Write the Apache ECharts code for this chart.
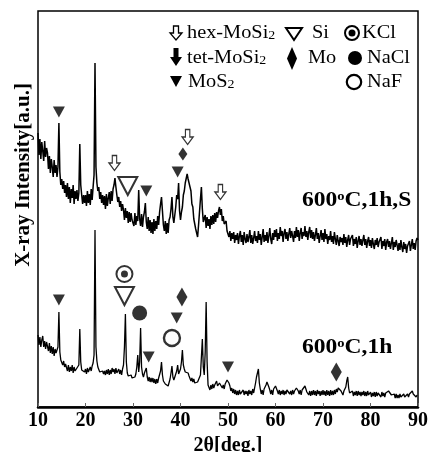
<!DOCTYPE html>
<html>
<head>
<meta charset="utf-8">
<script src="https://cdn.jsdelivr.net/npm/echarts@6/dist/echarts.min.js"></script>
<style>
html, body { margin: 0; padding: 0; background: #fff; }
#xrd { width: 434px; height: 452px; }
</style>
</head>
<body>
<div id="xrd"></div>
<script>
// both scans are sampled every 0.2 deg from 10 to 90 (2theta)
const THETA_START = 10;
const THETA_STEP = 0.2;
const xTicks = [10, 20, 30, 40, 50, 60, 70, 80, 90];

// upper trace: 600oC,1h,S (a.u.)
const scanS = [
    274, 252, 268, 248, 265, 256, 246, 266, 250, 259,
    254, 238, 251, 234, 248, 240, 230, 247, 234, 242,
    230, 240, 284, 235, 222, 228, 218, 226, 214, 222,
    210, 224, 208, 220, 204, 218, 209, 222, 203, 216,
    208, 217, 206, 214, 263, 222, 212, 203, 212, 204,
    212, 201, 216, 204, 213, 202, 218, 207, 220, 232,
    344, 240, 224, 216, 220, 208, 215, 204, 212, 202,
    211, 198, 213, 201, 209, 215, 203, 216, 206, 218,
    222, 229, 220, 212, 205, 210, 200, 206, 196, 203,
    197, 187, 199, 189, 196, 184, 195, 185, 194, 187,
    188, 181, 194, 182, 191, 186, 217, 188, 181, 193,
    180, 190, 195, 204, 185, 178, 190, 176, 187, 174,
    185, 173, 188, 176, 186, 178, 191, 182, 195, 203,
    210, 196, 182, 176, 186, 173, 184, 174, 187, 190,
    198, 210, 190, 184, 192, 200, 212, 208, 224, 196,
    187, 195, 200, 212, 216, 224, 226, 233, 228, 227,
    220, 216, 203, 200, 188, 187, 178, 177, 170, 182,
    195, 208, 220, 198, 185, 183, 192, 179, 190, 181,
    188, 178, 191, 182, 192, 183, 194, 185, 195, 189,
    196, 200, 192, 198, 186, 191, 183, 184, 186, 176,
    178, 170, 176, 166, 174, 168, 175, 164, 172, 167,
    174, 163, 171, 176, 165, 172, 162, 175, 168, 164,
    173, 165, 170, 177, 164, 172, 163, 169, 176, 166,
    171, 164, 176, 167, 173, 162, 170, 178, 165, 172,
    166, 175, 164, 171, 179, 168, 163, 174, 167, 177,
    170, 178, 166, 174, 168, 180, 171, 176, 165, 174,
    178, 168, 175, 166, 173, 179, 169, 176, 171, 165,
    176, 169, 180, 170, 177, 166, 174, 179, 168, 175,
    171, 181, 170, 176, 167, 175, 180, 169, 177, 168,
    175, 166, 172, 179, 168, 174, 164, 171, 177, 167,
    174, 165, 178, 168, 173, 163, 171, 167, 176, 165,
    171, 163, 175, 168, 162, 172, 166, 161, 170, 165,
    169, 162, 173, 164, 170, 160, 167, 172, 162, 168,
    166, 172, 161, 168, 163, 170, 159, 166, 171, 162,
    168, 161, 167, 172, 162, 168, 159, 166, 170, 161,
    167, 159, 169, 163, 158, 167, 162, 169, 160, 165,
    164, 170, 158, 166, 161, 168, 157, 165, 168, 160,
    166, 158, 164, 170, 157, 165, 160, 167, 162, 156,
    164, 157, 167, 160, 155, 165, 158, 163, 154, 161,
    160, 166, 156, 162, 168, 158, 164, 157, 166, 169,
    167
];

// lower trace: 600oC,1h (a.u.)
const scanPlain = [
    72, 62, 70, 60, 67, 71, 60, 66, 58, 65,
    63, 56, 64, 54, 61, 53, 60, 51, 58, 54,
    52, 60, 95, 55, 47, 45, 42, 46, 40, 43,
    41, 36, 42, 35, 40, 36, 42, 34, 40, 36,
    36, 39, 37, 42, 78, 45, 37, 35, 38, 35,
    38, 33, 39, 35, 34, 40, 36, 41, 44, 52,
    177, 60, 46, 40, 38, 35, 37, 34, 36, 33,
    36, 32, 37, 33, 38, 32, 37, 33, 39, 35,
    38, 33, 39, 34, 32, 38, 33, 37, 32, 38,
    42, 60, 93, 45, 34, 31, 33, 30, 32, 29,
    31, 28, 30, 33, 40, 52, 35, 45, 79, 40,
    33, 30, 34, 36, 39, 30, 26, 30, 25, 29,
    25, 29, 24, 28, 23, 28, 24, 29, 30, 36,
    45, 32, 26, 25, 23, 22, 24, 21, 22, 28,
    34, 41, 30, 27, 30, 33, 36, 42, 33, 32,
    38, 45, 57, 42, 38, 35, 37, 33, 34, 31,
    30, 26, 29, 25, 28, 24, 26, 22, 25, 23,
    25, 32, 50, 68, 40, 32, 55, 105, 45, 22,
    21, 17, 22, 18, 23, 19, 22, 24, 26, 21,
    22, 24, 26, 22, 19, 22, 18, 23, 24, 27,
    29, 24, 21, 16, 19, 14, 18, 13, 17, 12,
    16, 12, 17, 13, 15, 11, 17, 12, 16, 13,
    16, 11, 17, 13, 16, 12, 18, 14, 19, 24,
    30, 28, 38, 24, 18, 13, 17, 12, 18, 20,
    22, 25, 27, 20, 17, 13, 17, 12, 18, 19,
    21, 20, 16, 13, 17, 12, 16, 13, 17, 12,
    16, 13, 17, 18, 17, 13, 16, 12, 17, 13,
    16, 17, 19, 20, 16, 13, 17, 12, 17, 15,
    19, 21, 20, 15, 17, 12, 16, 11, 16, 12,
    17, 12, 16, 11, 17, 13, 16, 11, 16, 12,
    17, 12, 16, 11, 17, 12, 16, 11, 17, 12,
    16, 12, 17, 13, 18, 15, 19, 20, 21, 16,
    17, 12, 16, 17, 20, 26, 30, 19, 14, 16,
    12, 16, 11, 15, 12, 16, 11, 16, 12, 15,
    11, 15, 12, 16, 11, 15, 11, 16, 12, 14,
    15, 10, 14, 11, 15, 10, 15, 11, 14, 12,
    14, 10, 15, 11, 14, 10, 14, 12, 15, 16,
    17, 14, 12, 14, 10, 13, 9, 13, 9, 12,
    9, 13, 10, 12, 9, 13, 10, 12, 9, 13,
    10, 13, 14, 15, 16, 13, 12, 13, 10, 12,
    11
];

// phase markers above the peaks (2theta, height in a.u.)
const mos2X = [14.4, 32.8, 39.4, 14.4, 33.3, 39.2, 50.0];
const mos2Y = [295, 216, 235, 107, 50, 89, 40];
const hexX = [26.1, 41.5, 48.4];
const hexY = [244, 270, 215];
const siX = [28.9, 28.2];
const siY = [221, 111];
const moX = [40.5, 40.3, 72.8];
const moY = [253, 110, 35];
const kclX = [28.2];
const kclY = [133];
const naclX = [31.4];
const naclY = [94];
const nafX = [38.2];
const nafY = [69];

const SERIF = '"Liberation Serif", "Times New Roman", serif';
const INK = '#000';

const TRI_DOWN = 'path://M0,0 L12,0 L6,11 Z';
const HOLLOW_ARROW = 'path://M3,0 L7,0 L7,7 L10,7 L5,14 L0,7 L3,7 Z';

const toPoints = (ys) => ys.map((v, i) => [THETA_START + i * THETA_STEP, v]);
const pairs = (xs, ys) => xs.map((x, i) => [x, ys[i]]);

function scanSeries(ys, width) {
    return {
        type: 'line',
        data: toPoints(ys),
        showSymbol: false,
        silent: true,
        lineStyle: { color: INK, width: width },
        z: 2,
    };
}

function markSeries(xs, ys, symbol, size, itemStyle) {
    return {
        type: 'scatter',
        data: pairs(xs, ys),
        symbol: symbol,
        symbolSize: size,
        itemStyle: itemStyle,
        silent: true,
        z: 5,
    };
}

const filled = { color: INK };
const hollow = { color: '#fff', borderColor: INK, borderWidth: 1.3 };
const hollowThick = { color: '#fff', borderColor: INK, borderWidth: 2 };

// legend glyphs and texts, in pixels
function legendText(x, y, main, sub) {
    return {
        type: 'text',
        x: x,
        y: y,
        scaleX: 1.07,
        silent: true,
        style: {
            text: sub ? '{m|' + main + '}{s|' + sub + '}' : '{m|' + main + '}',
            fill: INK,
            fontFamily: SERIF,
            fontSize: 19,
            verticalAlign: 'middle',
            rich: {
                m: { fontSize: 19, fontFamily: SERIF },
                s: { fontSize: 13, fontFamily: SERIF, verticalAlign: 'bottom' },
            },
        },
    };
}

function poly(points, style) {
    return { type: 'polygon', silent: true, shape: { points: points }, style: style };
}

function ring(cx, cy, r, style) {
    return { type: 'circle', silent: true, shape: { cx: cx, cy: cy, r: r }, style: style };
}

function runLabel(x, y, rest) {
    return {
        type: 'text',
        x: x,
        y: y,
        scaleX: 1.12,
        silent: true,
        style: {
            text: '{n|600}{o|o}{n|' + rest + '}',
            fill: INK,
            fontFamily: SERIF,
            fontWeight: 'bold',
            fontSize: 21,
            verticalAlign: 'middle',
            rich: {
                n: { fontSize: 21, fontFamily: SERIF, fontWeight: 'bold' },
                o: { fontSize: 13, fontFamily: SERIF, fontWeight: 'bold', verticalAlign: 'top' },
            },
        },
    };
}

const legendGraphics = [
    poly([[173.5, 26], [178.5, 26], [178.5, 33], [182, 33], [176, 40], [170, 33], [173.5, 33]],
        { fill: '#fff', stroke: INK, lineWidth: 1.3 }),
    legendText(187, 33, 'hex-MoSi', '2'),
    poly([[173.5, 48], [178.5, 48], [178.5, 57], [182, 57], [176, 66], [170, 57], [173.5, 57]],
        { fill: INK }),
    legendText(187, 58, 'tet-MoSi', '2'),
    poly([[170, 76], [182, 76], [176, 87]], { fill: INK }),
    legendText(188, 82, 'MoS', '2'),

    poly([[286, 28], [302, 28], [294, 40]], { fill: '#fff', stroke: INK, lineWidth: 2 }),
    legendText(312, 33, 'Si'),
    poly([[292, 47], [297, 58.5], [292, 70], [287, 58.5]], { fill: INK }),
    legendText(308, 58, 'Mo'),

    ring(352, 33, 7, { fill: 'none', stroke: INK, lineWidth: 2 }),
    ring(352, 33, 3.5, { fill: INK }),
    legendText(362, 33, 'KCl'),
    ring(355, 58, 7, { fill: INK }),
    legendText(367, 58, 'NaCl'),
    ring(354, 82, 7.2, { fill: 'none', stroke: INK, lineWidth: 2.2 }),
    legendText(367, 82, 'NaF'),
];

const chart = echarts.init(document.getElementById('xrd'), null, { renderer: 'canvas' });

const option = {
    animation: false,
    backgroundColor: '#fff',
    grid: {
        left: 38,
        right: 16,
        top: 11,
        bottom: 45,
        show: true,
        borderColor: INK,
        borderWidth: 1.5,
        backgroundColor: 'transparent',
        outerBoundsMode: 'none',
    },
    xAxis: {
        type: 'value',
        min: xTicks[0],
        max: xTicks[xTicks.length - 1],
        interval: 10,
        name: '2θ[deg.]',
        nameLocation: 'middle',
        nameGap: 22,
        nameTextStyle: {
            color: INK,
            fontFamily: SERIF,
            fontWeight: 'bold',
            fontSize: 20,
        },
        axisLine: { show: true, lineStyle: { color: INK, width: 2.5 } },
        axisTick: { show: true, inside: true, length: 4, lineStyle: { color: '#666', width: 1 } },
        axisLabel: {
            color: INK,
            fontFamily: SERIF,
            fontWeight: 'bold',
            fontSize: 20,
            margin: 4,
        },
        splitLine: { show: false },
    },
    yAxis: {
        type: 'value',
        min: 0,
        max: 396,
        axisLine: { show: false },
        axisTick: { show: false },
        axisLabel: { show: false },
        splitLine: { show: false },
    },
    series: [
        scanSeries(scanS, 1.5),
        scanSeries(scanPlain, 1.3),
        markSeries(mos2X, mos2Y, TRI_DOWN, [12, 11], filled),
        markSeries(hexX, hexY, HOLLOW_ARROW, [11, 15], hollow),
        markSeries(siX, siY, TRI_DOWN, [19, 18], hollowThick),
        {
            type: 'scatter',
            data: pairs(moX, moY),
            symbol: 'diamond',
            symbolSize: (val, p) => (p.dataIndex === 0 ? [9, 13] : [11, 19]),
            itemStyle: filled,
            silent: true,
            z: 5,
        },
        markSeries(kclX, kclY, 'circle', 16, { color: '#fff', borderColor: INK, borderWidth: 2 }),
        markSeries(kclX, kclY, 'circle', 7, filled),
        markSeries(naclX, naclY, 'circle', 15, filled),
        markSeries(nafX, nafY, 'circle', 16, { color: '#fff', borderColor: INK, borderWidth: 2.4 }),
    ],
    graphic: [
        {
            type: 'text',
            x: 24,
            y: 175,
            rotation: Math.PI / 2,
            silent: true,
            style: {
                text: 'X-ray Intensity[a.u.]',
                fill: INK,
                fontFamily: SERIF,
                fontWeight: 'bold',
                fontSize: 21,
                align: 'center',
                verticalAlign: 'middle',
            },
        },
        runLabel(302, 201, 'C,1h,S'),
        runLabel(302, 348, 'C,1h'),
    ].concat(legendGraphics),
};

chart.setOption(option);
</script>
</body>
</html>
